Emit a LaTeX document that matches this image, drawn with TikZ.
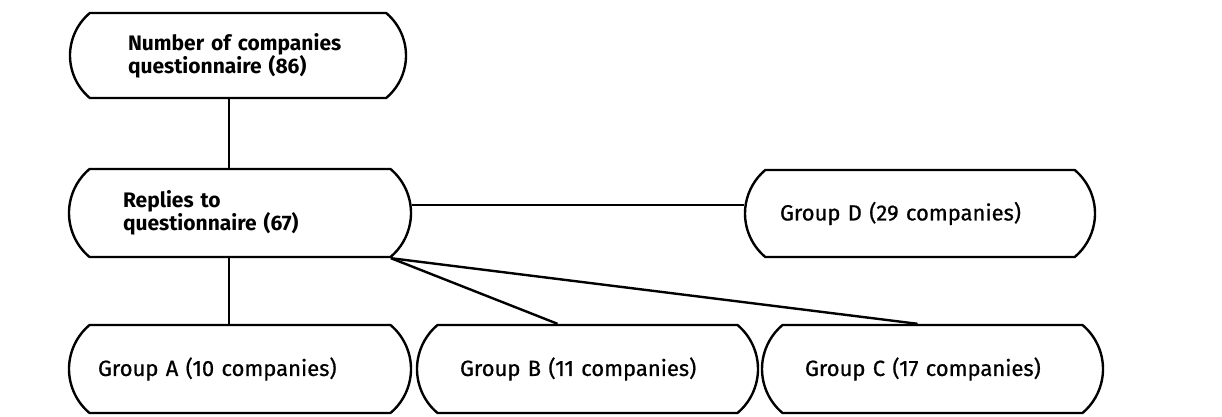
\documentclass[tikz,border=0pt]{standalone}
\usepackage{fontspec}
\setmainfont{Fira Sans}
\newfontfamily\grpfont[FakeBold=0.7]{Fira Sans}
\usetikzlibrary{shapes.misc}
\begin{document}
\begin{tikzpicture}[x=1pt,y=-1pt,
  capsule/.style={rounded rectangle, rounded rectangle arc length=100,
    draw, line width=2.4pt, inner sep=2pt, align=left,
    font=\grpfont\fontsize{22}{26}\selectfont},
  headbox/.style={capsule, font=\fontsize{21}{23}\selectfont\bfseries},
  link/.style={line width=2.4pt}]
\useasboundingbox (0,0) rectangle (1222,417);

% survey population and replies
\node[headbox, minimum width=340pt, minimum height=85pt, text width=220pt]
  (total) at (238,55.5) {Number of companies\\questionnaire (86)};
\node[headbox, minimum width=346pt, minimum height=88pt, text width=234pt]
  (replies) at (240,213) {Replies to\\questionnaire (67)};

% groups of respondents
\node[capsule, minimum width=354pt, minimum height=87pt, text width=280pt]
  (gD) at (920,213.5) {Group D (29 companies)};
\node[capsule, minimum width=346pt, minimum height=88pt, text width=284pt]
  (gA) at (240,369) {Group A (10 companies)};
\node[capsule, minimum width=345pt, minimum height=88pt, text width=255pt]
  (gB) at (587.5,369) {Group B (11 companies)};
\node[capsule, minimum width=345pt, minimum height=88pt, text width=255pt]
  (gC) at (932.5,369) {Group C (17 companies)};

% connectors
\draw[link] ([xshift=-9pt]total.south) -- ([xshift=-9pt]total.south |- replies.north);
\draw[link] ([xshift=-11pt]replies.south) -- ([xshift=-11pt]replies.south |- gA.north);
\draw[link] ([yshift=8pt]replies.east) -- ([yshift=8pt]replies.east -| gD.west);
\draw[link] (replies.south east) -- ([xshift=-30pt]gB.north);
\draw[link] (replies.south east) -- ([xshift=-15pt]gC.north);
\end{tikzpicture}
\end{document}
